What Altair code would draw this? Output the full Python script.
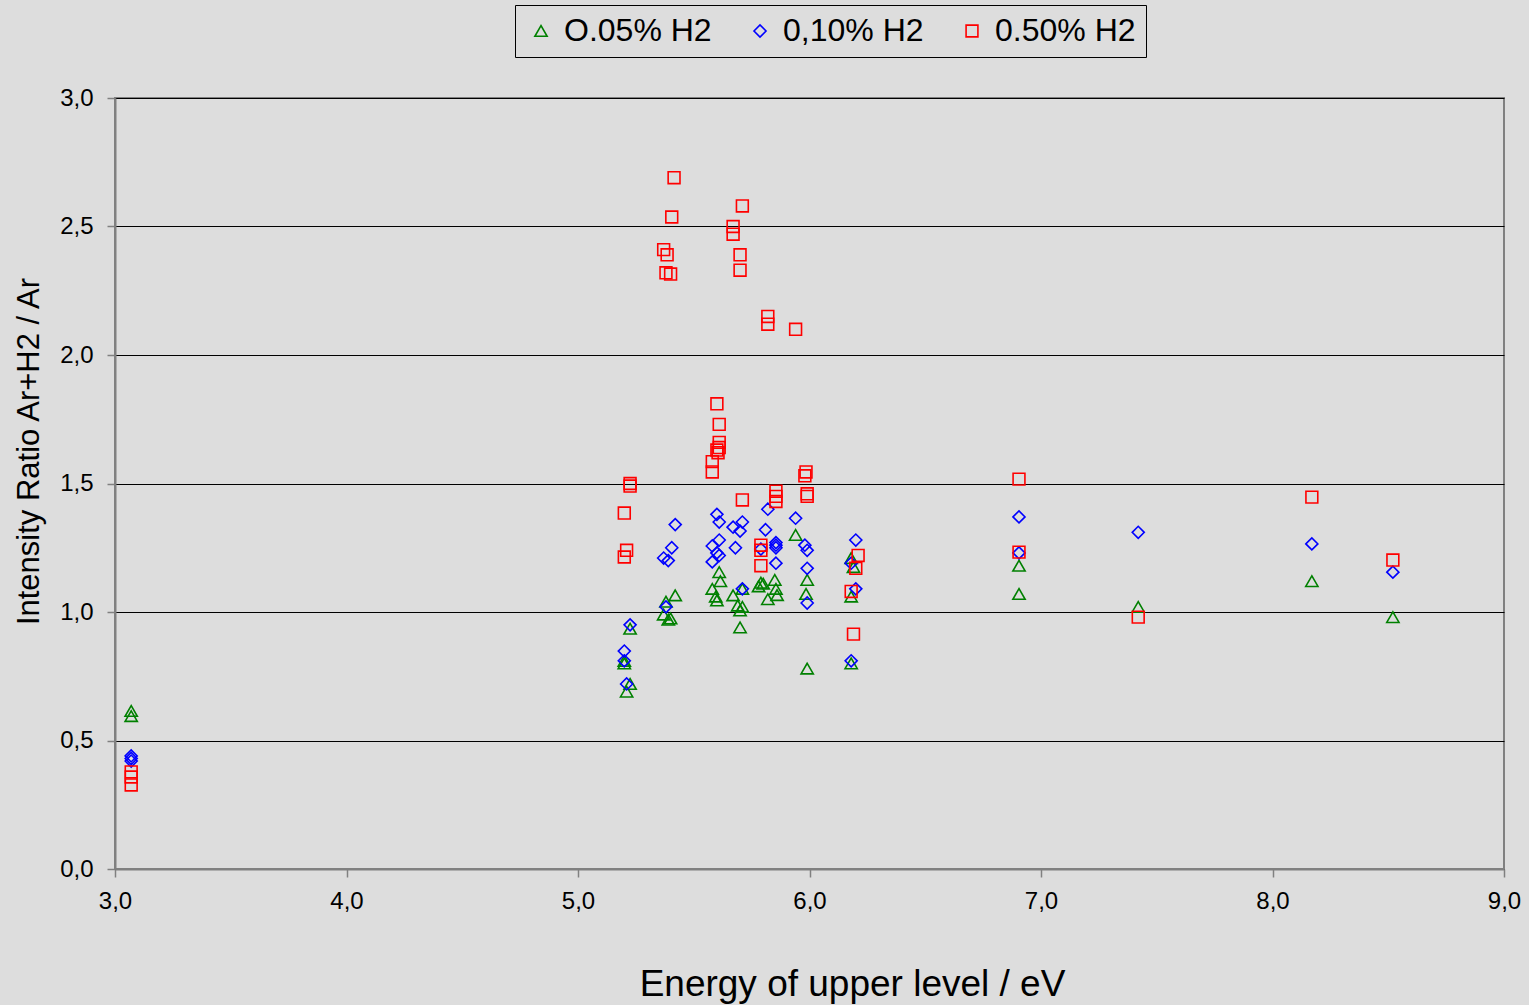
import altair as alt
import pandas as pd

series_names = ["O.05% H2", "0,10% H2", "0.50% H2"]

g_x = [3.07, 3.07, 5.20, 5.20, 5.21, 5.225, 5.225, 5.37, 5.38, 5.39, 5.40, 5.42,
       5.58, 5.595, 5.60, 5.61, 5.615, 5.67, 5.69, 5.70, 5.70, 5.71, 5.71,
       5.78, 5.79, 5.80, 5.82, 5.85, 5.855, 5.86, 5.94, 5.985, 5.99, 5.99,
       6.18, 6.19, 6.18, 6.18, 6.905, 6.905, 7.42, 8.17, 8.52]
g_y = [0.615, 0.595, 0.81, 0.80, 0.69, 0.72, 0.935, 0.99, 1.04, 0.97, 0.975, 1.065,
       1.09, 1.06, 1.045, 1.155, 1.12, 1.065, 1.025, 1.006, 0.94, 1.09, 1.02,
       1.10, 1.114, 1.11, 1.05, 1.125, 1.09, 1.066, 1.30, 1.07, 1.125, 0.78,
       1.21, 1.175, 1.06, 0.80, 1.18, 1.07, 1.02, 1.12, 0.98]

b_x = [3.07, 3.07, 3.07, 5.20, 5.20, 5.21, 5.225, 5.37, 5.39, 5.38, 5.405, 5.42,
       5.58, 5.58, 5.60, 5.61, 5.61, 5.60, 5.61, 5.67, 5.68, 5.70, 5.71, 5.71,
       5.82, 5.81, 5.79, 5.855, 5.855, 5.855, 5.855, 5.94, 5.98, 5.99, 5.99, 5.99,
       6.20, 6.18, 6.20, 6.18, 6.905, 6.905, 7.42, 8.17, 8.52]
b_y = [0.44, 0.43, 0.42, 0.848, 0.81, 0.72, 0.95, 1.21, 1.20, 1.02, 1.25, 1.34,
       1.257, 1.195, 1.38, 1.35, 1.28, 1.23, 1.22, 1.33, 1.25, 1.315, 1.35, 1.09,
       1.40, 1.32, 1.245, 1.27, 1.26, 1.25, 1.19, 1.365, 1.26, 1.24, 1.17, 1.035,
       1.28, 1.19, 1.09, 0.81, 1.37, 1.23, 1.31, 1.265, 1.155]

r_x = [3.07, 3.07, 3.07, 5.20, 5.21, 5.20, 5.225, 5.225, 5.37, 5.385, 5.38, 5.40,
       5.405, 5.415, 5.58, 5.58, 5.60, 5.605, 5.61, 5.61, 5.61, 5.60,
       5.67, 5.67, 5.70, 5.70, 5.71, 5.71, 5.79, 5.79, 5.79, 5.82, 5.82,
       5.855, 5.855, 5.855, 5.94, 5.98, 5.985, 5.99, 5.99,
       6.18, 6.19, 6.20, 6.21, 6.905, 6.905, 7.42, 8.17, 8.52]
r_y = [0.378, 0.358, 0.327, 1.214, 1.24, 1.385, 1.49, 1.50, 2.41, 2.39, 2.32, 2.315,
       2.537, 2.69, 1.545, 1.585, 1.63, 1.62, 1.64, 1.66, 1.73, 1.81,
       2.50, 2.47, 2.39, 2.33, 2.58, 1.436, 1.26, 1.24, 1.18, 2.15, 2.12,
       1.47, 1.45, 1.43, 2.10, 1.53, 1.545, 1.46, 1.45,
       1.08, 0.914, 1.17, 1.22, 1.517, 1.233, 0.98, 1.447, 1.202]

rows = []
for name, xs, ys in zip(series_names, [g_x, b_x, r_x], [g_y, b_y, r_y]):
    for xv, yv in zip(xs, ys):
        rows.append({"series": name, "energy": xv, "ratio": yv})
df = pd.DataFrame(rows)

label_expr = "replace(format(datum.value, '.1f'), '.', ',')"

chart = alt.Chart(df).mark_point(filled=False, strokeWidth=1.6, opacity=1).encode(
    x=alt.X("energy:Q",
            scale=alt.Scale(domain=[3, 9], nice=False, zero=False),
            axis=alt.Axis(title="Energy of upper level / eV", values=[3, 4, 5, 6, 7, 8, 9],
                          labelExpr=label_expr, grid=False, titleFontSize=37,
                          titleX=737, titleAlign="center", labelFlush=False,
                          titlePadding=53, labelPadding=12)),
    y=alt.Y("ratio:Q",
            scale=alt.Scale(domain=[0, 3], nice=False),
            axis=alt.Axis(title="Intensity Ratio Ar+H2 / Ar", values=[0, 0.5, 1, 1.5, 2, 2.5, 3],
                          labelExpr=label_expr, grid=True, titleFontSize=31,
                          titleY=353, titleAlign="center", labelFlush=False,
                          titlePadding=14, labelPadding=14)),
    color=alt.Color("series:N",
                    scale=alt.Scale(domain=series_names, range=["#008000", "#0000ff", "#ff0000"]),
                    legend=alt.Legend(title=None, orient="none", direction="horizontal",
                                      legendX=400, legendY=-93,
                                      labelFontSize=32, symbolSize=100, symbolStrokeWidth=1.6,
                                      columnPadding=32, symbolType="square",
                                      strokeColor="#000000", fillColor="#dddddd",
                                      padding=10, labelLimit=400, labelOffset=7)),
    shape=alt.Shape("series:N",
                    scale=alt.Scale(domain=series_names, range=["triangle-up", "diamond", "square"]),
                    legend=None),
    size=alt.Size("series:N",
                  scale=alt.Scale(domain=series_names, range=[150, 140, 180]),
                  legend=None),
    order=alt.Order("order_idx:Q"),
).transform_calculate(
    order_idx="indexof(['O.05% H2','0,10% H2','0.50% H2'], datum.series)"
).properties(
    width=1389, height=771,
    autosize=alt.AutoSizeParams(type="none"),
    padding={"left": 115, "top": 98, "right": 25, "bottom": 136},
    background="#dddddd",
).configure_view(
    stroke="#808080", strokeWidth=2, fill="#dddddd"
).configure_axis(
    labelFont="Liberation Sans", titleFont="Liberation Sans",
    labelFontSize=24, labelColor="#000000", titleColor="#000000",
    titleFontWeight="normal",
    domainColor="#808080", domainWidth=2,
    tickColor="#808080", tickSize=8, tickWidth=1.5,
    gridColor="#000000", gridWidth=1,
).configure_legend(
    labelFont="Liberation Sans", labelColor="#000000",
)

chart.save("out.html", embed_options={"renderer": "svg", "actions": False})
